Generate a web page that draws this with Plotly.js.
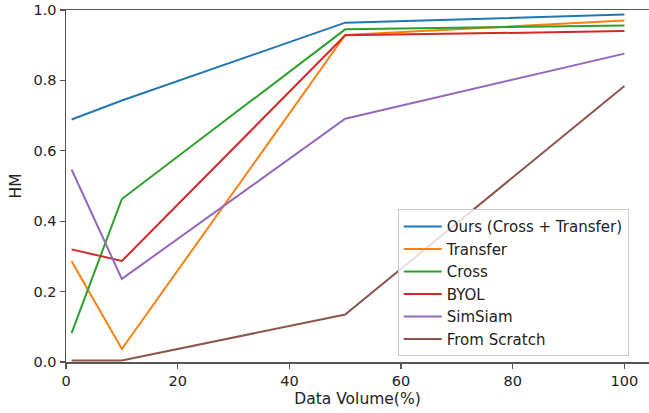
<!DOCTYPE html>
<html>
<head>
<meta charset="utf-8">
<script src="https://cdn.plot.ly/plotly-3.0.1.min.js"></script>
<style>html,body{margin:0;padding:0;background:#fff;}#chart{width:649px;height:413px;}</style>
</head>
<body>
<div id="chart"></div>
<script>
const dataVolume = [1, 10, 50, 100];
const seriesNames = ["Ours (Cross + Transfer)", "Transfer", "Cross", "BYOL", "SimSiam", "From Scratch"];
const oursValues = [0.689, 0.743, 0.964, 0.987];
const transferValues = [0.286, 0.037, 0.929, 0.970];
const crossValues = [0.082, 0.463, 0.945, 0.956];
const byolValues = [0.320, 0.287, 0.928, 0.940];
const simsiamValues = [0.547, 0.236, 0.691, 0.876];
const scratchValues = [0.004, 0.004, 0.135, 0.784];
const seriesColors = ["#1f77b4", "#ff7f0e", "#2ca02c", "#d62728", "#9467bd", "#8c564b"];
const xTicks = [0, 20, 40, 60, 80, 100];
const yTicks = [0.0, 0.2, 0.4, 0.6, 0.8, 1.0];

const allValues = [oursValues, transferValues, crossValues, byolValues, simsiamValues, scratchValues];
const traces = allValues.map((vals, i) => ({
  x: dataVolume,
  y: vals,
  type: "scatter",
  mode: "lines",
  name: seriesNames[i],
  line: {color: seriesColors[i], width: 2}
}));

const tickFont = {family: "DejaVu Sans", size: 14.5, color: "#222"};
const labelFont = {family: "DejaVu Sans", size: 15.5, color: "#222"};
const layout = {
  width: 649, height: 413,
  margin: {l: 66, r: 0, t: 10, b: 51},
  paper_bgcolor: "#fff", plot_bgcolor: "#fff",
  font: tickFont,
  showlegend: true,
  xaxis: {
    range: [0, 104.4],
    tickvals: xTicks,
    ticktext: xTicks.map(String),
    showgrid: false, zeroline: false,
    showline: true, linecolor: "#555", linewidth: 1.5, mirror: true,
    ticks: "outside", ticklen: 5, tickcolor: "#555", tickwidth: 1.2,
    tickfont: tickFont,
    title: {text: "Data Volume(%)", font: labelFont, standoff: 5}
  },
  yaxis: {
    range: [0, 1.0],
    tickvals: yTicks,
    ticktext: yTicks.map(v => v.toFixed(1)),
    showgrid: false, zeroline: false,
    showline: true, linecolor: "#555", linewidth: 1.5, mirror: false,
    ticks: "outside", ticklen: 5, tickcolor: "#555", tickwidth: 1.2,
    tickfont: tickFont,
    title: {text: "HM", font: labelFont, standoff: 8}
  },
  legend: {
    x: 0.569, y: 0.434, xanchor: "left", yanchor: "top",
    bgcolor: "rgba(255,255,255,0.8)",
    bordercolor: "#ccc", borderwidth: 1,
    font: {family: "DejaVu Sans", size: 15, color: "#222"},
    itemwidth: 38,
    tracegroupgap: 0
  }
};

Plotly.newPlot("chart", traces, layout, {displayModeBar: false, staticPlot: true});
</script>
</body>
</html>
